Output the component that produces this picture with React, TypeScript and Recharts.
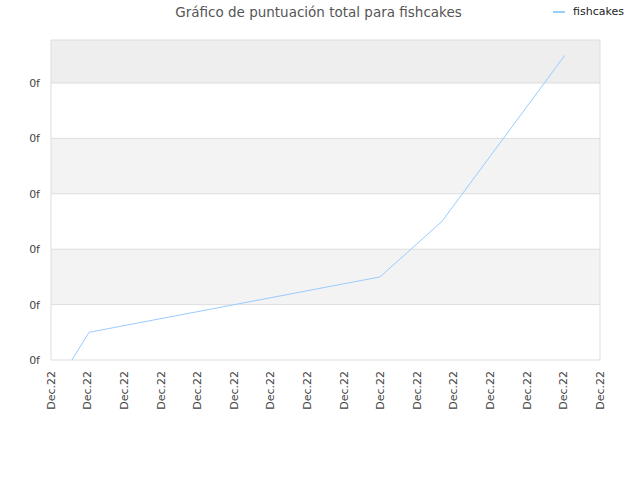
import React from "react";
import { LineChart, Line, XAxis, YAxis, ReferenceArea, ReferenceLine } from "recharts";

const xValues = [0.57, 1.04, 8.99, 10.68, 14.04];
const yValues = [0, 0.5, 1.5, 2.5, 5.5];
const xTicks = [0, 1, 2, 3, 4, 5, 6, 7, 8, 9, 10, 11, 12, 13, 14, 15];
const xTickLabel = "Dec.22";
const yTicks = [0, 1, 2, 3, 4, 5];
const yTickLabel = "0f";
const seriesName = "fishcakes";
const title = "Gráfico de puntuación total para fishcakes";

const data = xValues.map((x, i) => ({ x, y: yValues[i] }));

const Y_MAX = 5.776;
const bands = [
  { y1: 1, y2: 2, fill: "#f3f3f3" },
  { y1: 3, y2: 4, fill: "#f3f3f3" },
  { y1: 5, y2: Y_MAX, fill: "#eeeeee" },
];

const font = "'DejaVu Sans', sans-serif";

export default function App() {
  return (
    <div style={{ position: "absolute", left: 0, top: 0, width: 640, height: 480, background: "#fff", fontFamily: font }}>
      <div style={{ position: "absolute", left: 0, width: 637, top: 4, textAlign: "center", fontSize: 13.5, color: "#555" }}>
        {title}
      </div>
      <div style={{ position: "absolute", left: 553, top: 5, display: "flex", alignItems: "center", fontSize: 11, color: "#222" }}>
        <span style={{ display: "inline-block", width: 12, height: 2, background: "#99ccff", marginRight: 8 }} />
        {seriesName}
      </div>
      <LineChart width={640} height={480} data={data} margin={{ top: 40, right: 40, bottom: 60, left: 0 }}>
        {bands.map((b, i) => (
          <ReferenceArea key={i} y1={b.y1} y2={b.y2} fill={b.fill} fillOpacity={1} stroke="none" ifOverflow="hidden" />
        ))}
        {yTicks.map((t) => (
          <ReferenceLine key={t} y={t} stroke="#dddddd" strokeWidth={1} />
        ))}
        <ReferenceLine y={Y_MAX} stroke="#dddddd" strokeWidth={1} />
        <ReferenceLine x={0} stroke="#dddddd" strokeWidth={1} />
        <ReferenceLine x={15} stroke="#dddddd" strokeWidth={1} />
        <XAxis
          dataKey="x"
          type="number"
          domain={[0, 15]}
          ticks={xTicks}
          interval={0}
          tickFormatter={() => xTickLabel}
          axisLine={false}
          tickLine={false}
          angle={-90}
          textAnchor="end"
          dx={-4}
          dy={3}
          height={60}
          tick={{ fontSize: 11, fill: "#444", fontFamily: font }}
        />
        <YAxis
          type="number"
          domain={[0, Y_MAX]}
          ticks={yTicks}
          interval={0}
          tickFormatter={() => yTickLabel}
          axisLine={false}
          tickLine={false}
          width={51}
          dx={-3}
          tick={{ fontSize: 11, fill: "#444", fontFamily: font }}
        />
        <Line
          type="linear"
          dataKey="y"
          stroke="#99ccff"
          strokeWidth={1}
          dot={false}
          isAnimationActive={false}
          name={seriesName}
        />
      </LineChart>
    </div>
  );
}
